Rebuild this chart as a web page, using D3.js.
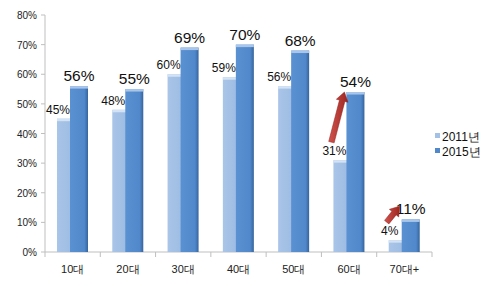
<!DOCTYPE html>
<html>
<head>
<meta charset="utf-8">
<script src="https://cdn.jsdelivr.net/npm/d3@7"></script>
<style>
  body { margin: 0; background: #fff; }
  svg { display: block; font-family: "Liberation Sans", Arial, sans-serif; }
</style>
</head>
<body>
<div id="chart"></div>
<script>
// Data
const categories = ['10대', '20대', '30대', '40대', '50대', '60대', '70대+'];
const values2011 = [0.45, 0.48, 0.60, 0.59, 0.56, 0.31, 0.04];
const values2015 = [0.56, 0.55, 0.69, 0.70, 0.68, 0.54, 0.11];
const seriesNames = ['2011년', '2015년'];
const yTicks = [0, 0.1, 0.2, 0.3, 0.4, 0.5, 0.6, 0.7, 0.8];
const arrowCats = ['60대', '70대+'];

const width = 494, height = 286;

const svg = d3.select('#chart').append('svg')
    .attr('width', width)
    .attr('height', height);

const x = d3.scaleBand().domain(categories).range([45, 432]);
const y = d3.scaleLinear().domain([0, 0.8]).range([252, 15]);

const defs = svg.append('defs');
function grad(id, stops) {
    const g = defs.append('linearGradient').attr('id', id)
        .attr('x1', 0).attr('x2', 1).attr('y1', 0).attr('y2', 0);
    stops.forEach(s => g.append('stop').attr('offset', s[0]).attr('stop-color', s[1]));
}
grad('gLight', [[0, '#a9c5e8'], [0.85, '#9dbbe2'], [1, '#7f9fc9']]);
grad('gDark', [[0, '#5a91d2'], [0.8, '#5088cb'], [1, '#36649c']]);
grad('gArrow', [[0, '#d2534d'], [1, '#9c2521']]);

// y axis
const yAxis = svg.append('g');
yAxis.append('line')
    .attr('x1', 45).attr('x2', 45).attr('y1', y(0.8)).attr('y2', y(0))
    .attr('stroke', '#bfbfbf');
yAxis.selectAll('.ytick').data(yTicks).join('line')
    .attr('x1', 41).attr('x2', 45)
    .attr('y1', d => y(d)).attr('y2', d => y(d))
    .attr('stroke', '#bfbfbf');
yAxis.selectAll('text').data(yTicks).join('text')
    .attr('x', 37).attr('y', d => y(d) + 4)
    .attr('text-anchor', 'end')
    .attr('font-size', 10)
    .attr('fill', '#222')
    .text(d => d3.format('.0%')(d));

// x axis
const xAxis = svg.append('g');
xAxis.append('line')
    .attr('x1', 45).attr('x2', 432).attr('y1', y(0)).attr('y2', y(0))
    .attr('stroke', '#bfbfbf');
const bounds = categories.map(c => x(c)).concat([x.range()[1]]);
xAxis.selectAll('.xtick').data(bounds).join('line')
    .attr('x1', d => d).attr('x2', d => d)
    .attr('y1', y(0)).attr('y2', y(0) + 5)
    .attr('stroke', '#bfbfbf');
xAxis.selectAll('text').data(categories).join('text')
    .attr('x', d => x(d) + x.bandwidth() / 2)
    .attr('y', 273)
    .attr('text-anchor', 'middle')
    .attr('font-size', 11)
    .attr('fill', '#222')
    .text(d => d);

const barW = 18;
const off2011 = 12, off2015 = 25;

function drawBars(vals, off, fill, cap, cls) {
    const g = svg.append('g').attr('class', cls);
    g.selectAll('rect.body').data(vals).join('rect')
        .attr('class', 'body')
        .attr('x', (d, i) => x(categories[i]) + off)
        .attr('y', d => y(d))
        .attr('width', barW)
        .attr('height', d => y(0) - y(d))
        .attr('fill', fill);
    g.selectAll('rect.cap').data(vals).join('rect')
        .attr('class', 'cap')
        .attr('x', (d, i) => x(categories[i]) + off)
        .attr('y', d => y(d))
        .attr('width', barW)
        .attr('height', 2.5)
        .attr('fill', cap);
}
drawBars(values2011, off2011, 'url(#gLight)', '#d3e2f4', 'bars2011');
drawBars(values2015, off2015, 'url(#gDark)', '#a9c6ea', 'bars2015');

// labels
svg.append('g').selectAll('text').data(values2011).join('text')
    .attr('x', (d, i) => x(categories[i]) + off2011 + 1)
    .attr('y', d => y(d) - 5)
    .attr('text-anchor', 'middle')
    .attr('font-size', 12)
    .attr('fill', '#111')
    .text(d => d3.format('.0%')(d));
svg.append('g').selectAll('text').data(values2015).join('text')
    .attr('x', (d, i) => x(categories[i]) + off2015 + barW / 2)
    .attr('y', d => y(d) - 5)
    .attr('text-anchor', 'middle')
    .attr('font-size', 15.5)
    .attr('fill', '#111')
    .text(d => d3.format('.0%')(d));

// arrows
function arrowPath(x1, y1, x2, y2) {
    const a = Math.atan2(y2 - y1, x2 - x1);
    const len = Math.hypot(x2 - x1, y2 - y1);
    const hw = 2.8, hl = 9, hh = 6;
    const pts = [[0, -hw], [len - hl, -hw], [len - hl, -hh], [len, 0],
                 [len - hl, hh], [len - hl, hw], [0, hw]];
    return 'M' + pts.map(p => [
        x1 + p[0] * Math.cos(a) - p[1] * Math.sin(a),
        y1 + p[0] * Math.sin(a) + p[1] * Math.cos(a)
    ].join(',')).join('L') + 'Z';
}
svg.append('g').selectAll('path').data(arrowCats).join('path')
    .attr('d', c => {
        const i = categories.indexOf(c);
        const bx = x(c);
        const x1 = bx + off2011 - 2, y1 = y(values2011[i]) - 18;
        const x2 = bx + off2015 - 2, y2 = Math.min(y(values2015[i]), y1 - 16);
        return arrowPath(x1, y1, x2, y2);
    })
    .attr('fill', 'url(#gArrow)')
    .attr('stroke', '#8e211d')
    .attr('stroke-width', 0.5);

// legend
const legend = svg.append('g');
const legendColors = ['#a3c0e5', '#5088cb'];
seriesNames.forEach((n, i) => {
    legend.append('rect')
        .attr('x', 435).attr('y', 133 + i * 15)
        .attr('width', 5).attr('height', 5)
        .attr('fill', legendColors[i]);
    legend.append('text')
        .attr('x', 442).attr('y', 141 + i * 15)
        .attr('font-size', 12)
        .attr('fill', '#111')
        .text(n);
});
</script>
</body>
</html>
